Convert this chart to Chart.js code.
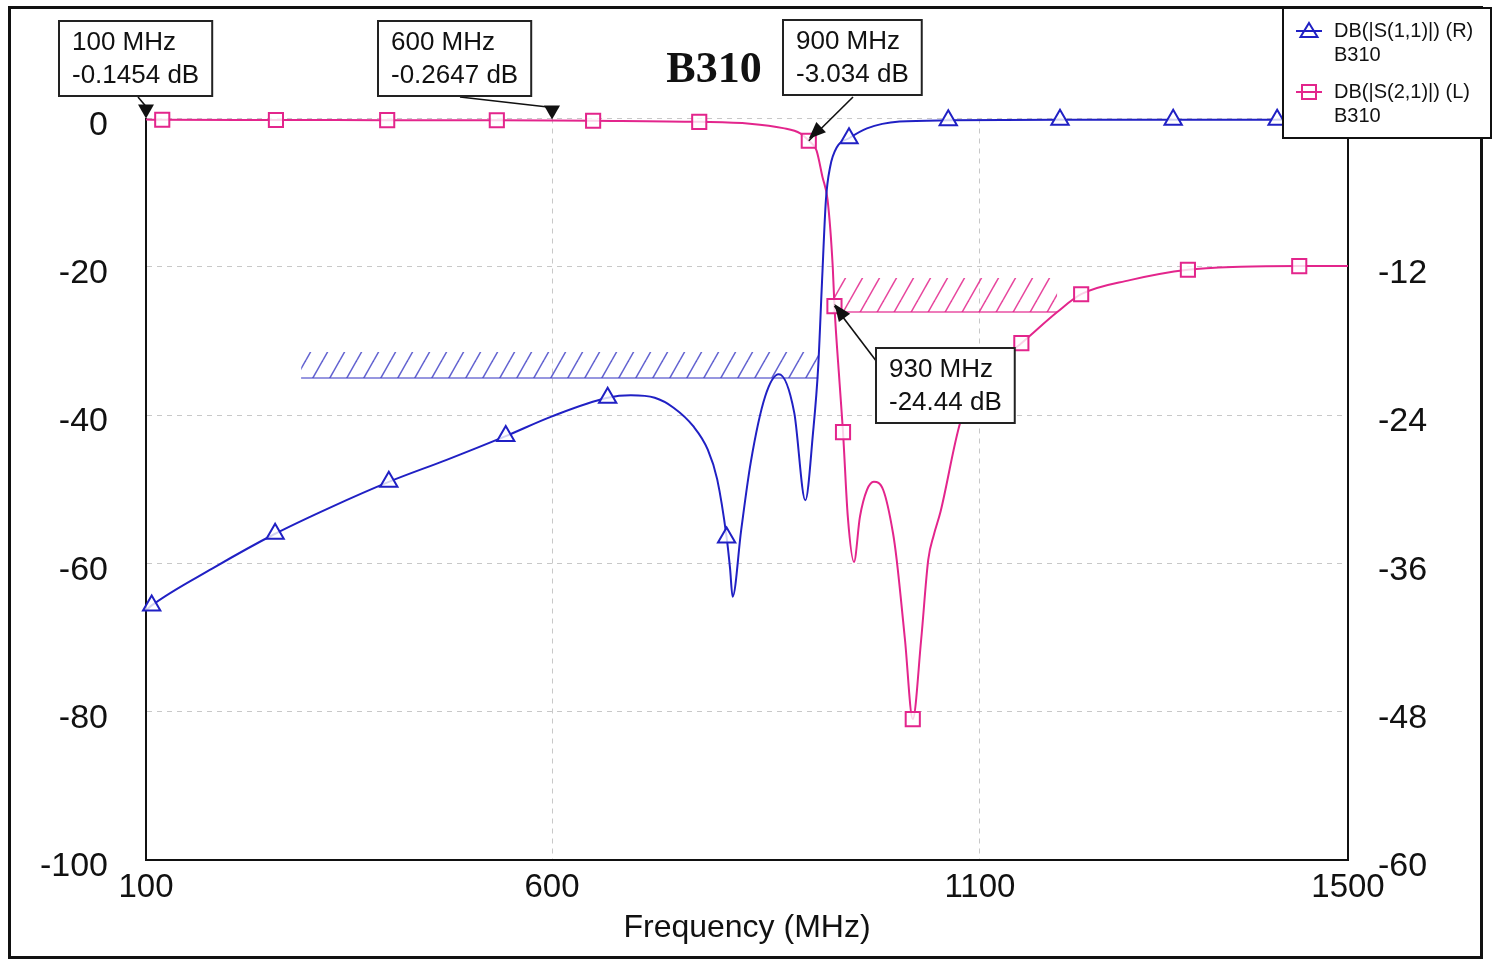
<!DOCTYPE html>
<html>
<head>
<meta charset="utf-8">
<script src="https://cdn.jsdelivr.net/npm/chart.js@4.4.0/dist/chart.umd.min.js"></script>
<style>
    html, body { margin: 0; padding: 0; background: #fff; }
    #wrap { width: 1500px; height: 965px; position: relative; }
</style>
</head>
<body>
<div id="wrap"><canvas id="sparamChart"></canvas></div>
<script>
(function() {
    // DB(|S(1,1)|), right axis
    const s11Freq = [100, 107, 182, 259, 326, 399, 471, 543, 600, 665, 692, 720, 742, 765, 782, 793, 804, 808, 811, 821, 832, 849, 865, 883, 896, 905, 911, 915.4, 920, 925, 933, 947, 968, 1006, 1063, 1187, 1310, 1423, 1500];
    const s11Db = [-39.8, -39.4, -36.4, -33.6, -31.5, -29.4, -27.6, -25.7, -24.1, -22.6, -22.4, -22.6, -23.4, -24.9, -26.8, -29.2, -33.9, -36.4, -38.7, -33.3, -27.9, -22.5, -20.7, -23.8, -30.9, -25.4, -20.1, -13.3, -6.6, -3.9, -2.3, -1.6, -0.8, -0.25, -0.15, -0.1, -0.1, -0.1, -0.1];
    const s11MarkFreq = [107, 259, 399, 543, 665, 804, 947, 1063, 1187, 1310, 1423];

    // DB(|S(2,1)|), left axis
    const s21Freq = [100, 120, 260, 397, 532, 600, 648, 772, 831, 870, 890, 900, 909, 916, 922, 928, 930, 936, 940, 945.6, 952.8, 959.8, 968, 976, 987, 998.4, 1002.7, 1012.4, 1021.5, 1031.3, 1039.6, 1046, 1054, 1077, 1100, 1120, 1145, 1184, 1210, 1263, 1326, 1383, 1447, 1500];
    const s21Db = [-0.145, -0.17, -0.2, -0.22, -0.24, -0.265, -0.3, -0.45, -0.7, -1.3, -2.0, -3.0, -4.3, -7.9, -11, -20, -25.3, -35.7, -42.3, -53.7, -59.8, -53.7, -50.1, -49.0, -50.1, -55.9, -59.5, -70.3, -81.0, -70.3, -59.5, -56.2, -53.0, -41, -35.5, -32.8, -30.3, -26.1, -23.7, -21.8, -20.4, -20.0, -19.9, -19.9];
    const s21MarkFreq = [120, 260, 397, 532, 648, 772, 900, 930, 940, 1021.5, 1145, 1210, 1326, 1447];

    // spec masks (hatched)
    const s11SpecFreq = [291, 911];
    const s11SpecDb = [-21, -18.9];
    const s21SpecFreq = [928, 1184];
    const s21SpecDb = [-26.1, -21.5];

    const xTicks = [100, 600, 1100, 1500];

    // markers on S21
    const markerFreq = [100, 600, 900, 930];
    const markerDb = ['-0.1454', '-0.2647', '-3.034', '-24.44'];

    const BLUE = '#2020c4';
    const PINK = '#e3258c';
    const FONT = '"Liberation Sans", Arial, sans-serif';

    // the source axis isn't evenly spaced: each tick step has its own length
    const xStops = [0, 0.3378, 0.6938, 1];

    class SegmentScale extends Chart.LinearScale {
        getPixelForValue(v) {
            if (v === null || v === undefined) return NaN;
            let i = 1;
            while (i < xTicks.length - 1 && v > xTicks[i]) i++;
            const t = (v - xTicks[i - 1]) / (xTicks[i] - xTicks[i - 1]);
            return this.getPixelForDecimal(xStops[i - 1] + t * (xStops[i] - xStops[i - 1]));
        }
        getValueForPixel(p) {
            const d = this.getDecimalForPixel(p);
            let i = 1;
            while (i < xStops.length - 1 && d > xStops[i]) i++;
            const t = (d - xStops[i - 1]) / (xStops[i] - xStops[i - 1]);
            return xTicks[i - 1] + t * (xTicks[i] - xTicks[i - 1]);
        }
    }
    SegmentScale.id = 'segment';
    SegmentScale.defaults = Chart.LinearScale.defaults;
    Chart.register(SegmentScale);

    function hatch(color) {
        const w = 17, h = 30;
        const c = document.createElement('canvas');
        c.width = w; c.height = h;
        const g = c.getContext('2d');
        g.strokeStyle = color;
        g.lineWidth = 1.5;
        for (let dx = -1; dx <= 1; dx++) {
            for (let dy = -1; dy <= 1; dy++) {
                g.beginPath();
                g.moveTo(dx * w, h + dy * h);
                g.lineTo(w + dx * w, dy * h);
                g.stroke();
            }
        }
        return g.createPattern(c, 'repeat');
    }

    const pts = (xs, ys) => xs.map((x, i) => ({ x: x, y: ys[i] }));

    function triangleDown(ctx, x, y) {
        ctx.beginPath();
        ctx.moveTo(x, y);
        ctx.lineTo(x - 8, y - 14);
        ctx.lineTo(x + 8, y - 14);
        ctx.closePath();
        ctx.fill();
    }

    function arrowHead(ctx, x0, y0, x1, y1) {
        const a = Math.atan2(y1 - y0, x1 - x0);
        const len = 17, half = 7;
        ctx.beginPath();
        ctx.moveTo(x1, y1);
        ctx.lineTo(x1 - len * Math.cos(a) + half * Math.sin(a), y1 - len * Math.sin(a) - half * Math.cos(a));
        ctx.lineTo(x1 - len * Math.cos(a) - half * Math.sin(a), y1 - len * Math.sin(a) + half * Math.cos(a));
        ctx.closePath();
        ctx.fill();
    }

    const decorPlugin = {
        id: 'decor',
        beforeDraw(chart) {
            const ctx = chart.ctx;
            ctx.save();
            ctx.fillStyle = '#fff';
            ctx.fillRect(0, 0, chart.width, chart.height);
            ctx.restore();
        },
        afterDraw(chart) {
            const ctx = chart.ctx;
            const xs = chart.scales.x, ys = chart.scales.y;
            ctx.save();

            // outer frame
            ctx.strokeStyle = '#111';
            ctx.lineWidth = 3;
            ctx.strokeRect(9.5, 7.5, 1472, 950);

            // title
            ctx.fillStyle = '#111';
            ctx.font = 'bold 44px "Liberation Serif", "DejaVu Serif", serif';
            ctx.textAlign = 'center';
            ctx.textBaseline = 'middle';
            ctx.fillText('B310', 714, 71);

            // marker boxes
            const boxAt = [[59, 21], [378, 21], [783, 20], [876, 348]];
            const fromAt = [[138, 97], [460, 97], [853, 97], [877, 362]];
            ctx.font = '26px ' + FONT;
            ctx.textAlign = 'left';
            markerFreq.forEach((f, i) => {
                const idx = s21Freq.indexOf(f);
                const tx = xs.getPixelForValue(f);
                const ty = ys.getPixelForValue(s21Db[idx]);
                const [fx, fy] = fromAt[i];
                ctx.strokeStyle = '#111';
                ctx.fillStyle = '#111';
                ctx.lineWidth = 1.6;
                ctx.beginPath();
                if (i < 2) {
                    ctx.moveTo(fx, fy);
                    ctx.lineTo(tx, ty - 13);
                    ctx.stroke();
                    triangleDown(ctx, tx, ty - 1);
                } else {
                    ctx.moveTo(fx, fy);
                    ctx.lineTo(tx, ty);
                    ctx.stroke();
                    arrowHead(ctx, fx, fy, tx, ty - 2);
                }
                const l1 = f + ' MHz', l2 = markerDb[i] + ' dB';
                const w = Math.max(ctx.measureText(l1).width, ctx.measureText(l2).width) + 26;
                const [bx, by] = boxAt[i];
                ctx.fillStyle = '#fff';
                ctx.fillRect(bx, by, w, 75);
                ctx.lineWidth = 2;
                ctx.strokeStyle = '#222';
                ctx.strokeRect(bx, by, w, 75);
                ctx.fillStyle = '#111';
                ctx.textBaseline = 'middle';
                ctx.fillText(l1, bx + 13, by + 22);
                ctx.fillText(l2, bx + 13, by + 55);
            });

            // legend
            ctx.fillStyle = '#fff';
            ctx.fillRect(1283, 8, 208, 130);
            ctx.lineWidth = 2;
            ctx.strokeStyle = '#111';
            ctx.strokeRect(1283, 8, 208, 130);
            ctx.lineWidth = 2;
            ctx.strokeStyle = BLUE;
            ctx.beginPath();
            ctx.moveTo(1296, 31); ctx.lineTo(1322, 31);
            ctx.moveTo(1309, 23); ctx.lineTo(1317.5, 37); ctx.lineTo(1300.5, 37); ctx.closePath();
            ctx.stroke();
            ctx.strokeStyle = PINK;
            ctx.beginPath();
            ctx.moveTo(1296, 92); ctx.lineTo(1322, 92);
            ctx.stroke();
            ctx.strokeRect(1302, 85, 14, 14);
            ctx.fillStyle = '#111';
            ctx.font = '20px ' + FONT;
            ctx.textBaseline = 'middle';
            ctx.fillText('DB(|S(1,1)|) (R)', 1334, 31);
            ctx.fillText('B310', 1334, 55);
            ctx.fillText('DB(|S(2,1)|) (L)', 1334, 92);
            ctx.fillText('B310', 1334, 116);
            ctx.restore();
        }
    };

    const gridOpts = { color: '#c8c8c8', lineWidth: 1, drawTicks: false };
    const borderOpts = { color: '#111', width: 2, dash: [5, 5] };

    new Chart(document.getElementById('sparamChart'), {
        type: 'line',
        data: {
            datasets: [
                {
                    label: 'DB(|S(1,1)|) (R) B310',
                    data: pts(s11Freq, s11Db),
                    yAxisID: 'y1',
                    borderColor: BLUE,
                    borderWidth: 2,
                    cubicInterpolationMode: 'monotone',
                    pointStyle: 'triangle',
                    pointRadius: c => s11MarkFreq.includes(c.raw.x) ? 10 : 0,
                    pointBorderColor: BLUE,
                    pointBorderWidth: 2,
                    pointBackgroundColor: 'rgba(255,255,255,0.8)',
                    fill: false,
                    clip: false
                },
                {
                    label: 'DB(|S(2,1)|) (L) B310',
                    data: pts(s21Freq, s21Db),
                    yAxisID: 'y',
                    borderColor: PINK,
                    borderWidth: 2,
                    cubicInterpolationMode: 'monotone',
                    pointStyle: 'rect',
                    pointRadius: c => s21MarkFreq.includes(c.raw.x) ? 10 : 0,
                    pointBorderColor: PINK,
                    pointBorderWidth: 2,
                    pointBackgroundColor: 'rgba(255,255,255,0.8)',
                    fill: false,
                    clip: false
                },
                {
                    label: 'S11 spec',
                    data: pts(s11SpecFreq, [s11SpecDb[0], s11SpecDb[0]]),
                    yAxisID: 'y1',
                    borderColor: 'rgba(70,70,200,0.75)',
                    borderWidth: 1.5,
                    pointRadius: 0,
                    fill: { value: s11SpecDb[1] },
                    backgroundColor: hatch('rgba(70,70,200,0.85)')
                },
                {
                    label: 'S21 spec',
                    data: pts(s21SpecFreq, [s21SpecDb[0], s21SpecDb[0]]),
                    yAxisID: 'y',
                    borderColor: 'rgba(227,37,140,0.8)',
                    borderWidth: 1.5,
                    pointRadius: 0,
                    fill: { value: s21SpecDb[1] },
                    backgroundColor: hatch('rgba(227,37,140,0.85)')
                }
            ]
        },
        options: {
            responsive: true,
            maintainAspectRatio: false,
            animation: false,
            events: [],
            layout: { padding: { top: 118.5, left: 0, right: 0, bottom: 0 } },
            plugins: {
                legend: { display: false },
                tooltip: { enabled: false }
            },
            scales: {
                x: {
                    type: 'segment',
                    min: 100,
                    max: 1500,
                    afterBuildTicks: axis => { axis.ticks = xTicks.map(v => ({ value: v })); },
                    afterFit: s => { s.height = 105; },
                    grid: gridOpts,
                    border: borderOpts,
                    ticks: { color: '#111', padding: 8, maxRotation: 0, autoSkip: false, callback: v => String(v), font: { family: FONT, size: 33 } },
                    title: { display: true, text: 'Frequency (MHz)', color: '#111', padding: { top: 0, bottom: 18 }, font: { family: FONT, size: 32 } }
                },
                y: {
                    position: 'left',
                    min: -100,
                    max: 0,
                    afterFit: s => { s.width = 146; },
                    grid: gridOpts,
                    border: borderOpts,
                    ticks: { stepSize: 20, color: '#111', padding: 38, labelOffset: 7, font: { family: FONT, size: 34 } }
                },
                y1: {
                    position: 'right',
                    min: -60,
                    max: 0,
                    afterFit: s => { s.width = 152; },
                    grid: { display: false, drawTicks: false },
                    border: { color: '#111', width: 2 },
                    ticks: { stepSize: 12, color: '#111', padding: 30, labelOffset: 7, font: { family: FONT, size: 34 } }
                }
            }
        },
        plugins: [decorPlugin]
    });
})();
</script>
</body>
</html>
